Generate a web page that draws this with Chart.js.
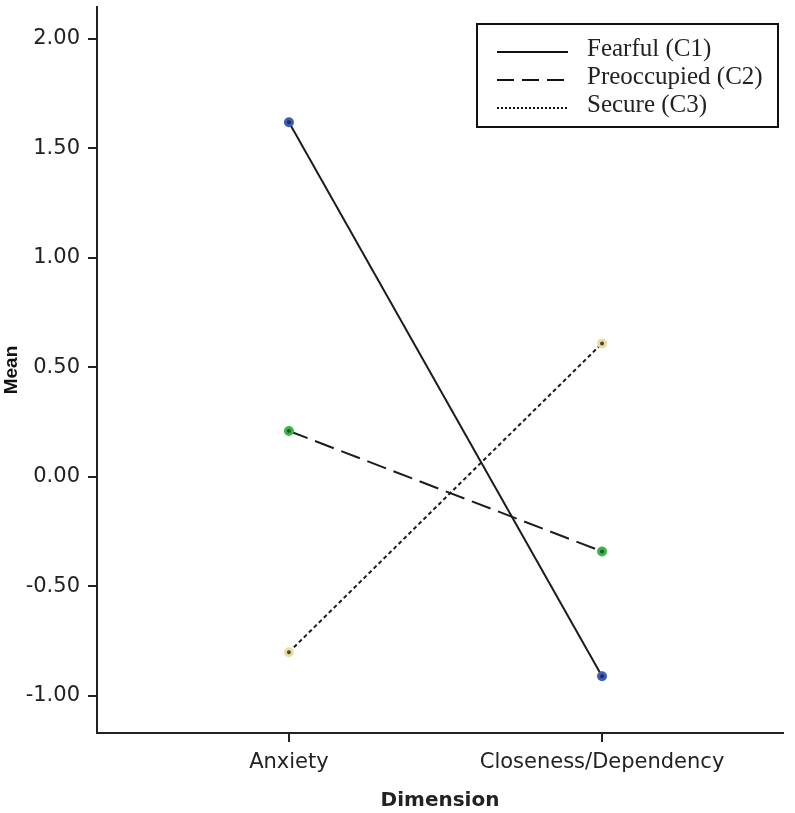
<!DOCTYPE html>
<html>
<head>
<meta charset="utf-8">
<script src="https://cdn.jsdelivr.net/npm/chart.js@4/dist/chart.umd.min.js"></script>
<style>
  html, body { margin: 0; padding: 0; background: #fff; }
  #wrap { width: 795px; height: 813px; }
</style>
</head>
<body>
<div id="wrap"><canvas id="c" width="795" height="813"></canvas></div>
<script>
// ---- data ----
const categories = ['Anxiety', 'Closeness/Dependency'];
const seriesNames = ['Fearful (C1)', 'Preoccupied (C2)', 'Secure (C3)'];
const fearful = [1.62, -0.91];
const preoccupied = [0.21, -0.34];
const secure = [-0.80, 0.61];
const yTicks = [-1.0, -0.5, 0.0, 0.5, 1.0, 1.5, 2.0];

const toPts = arr => arr.map((v, i) => ({ x: i, y: v }));
const lineCol = '#1c1c1c';

const legendBox = {
  id: 'legendBox',
  afterDraw(chart) {
    const ctx = chart.ctx;
    ctx.save();
    ctx.strokeStyle = '#111';
    ctx.lineWidth = 2;
    ctx.strokeRect(477, 24, 301, 103);
    const rows = [52, 80, 108];
    chart.data.datasets.forEach((ds, i) => {
      const y = rows[i];
      ctx.beginPath();
      ctx.setLineDash(ds.legendDash || []);
      ctx.lineWidth = 2;
      ctx.strokeStyle = '#111';
      ctx.moveTo(497, y);
      ctx.lineTo(568, y);
      ctx.stroke();
      ctx.setLineDash([]);
      ctx.fillStyle = '#222';
      ctx.font = '25px "Liberation Serif", "Times New Roman", serif';
      ctx.textBaseline = 'middle';
      ctx.textAlign = 'left';
      ctx.fillText(ds.label, 587, y - 3);
    });
    ctx.restore();
  }
};

new Chart(document.getElementById('c'), {
  type: 'line',
  data: {
    datasets: [
      {
        label: seriesNames[0], data: toPts(fearful),
        borderColor: lineCol, borderWidth: 2, borderDash: [],
        legendDash: [],
        pointRadius: 3.5, pointBorderWidth: 3,
        pointBackgroundColor: '#1f2c5c', pointBorderColor: '#3d5eb0'
      },
      {
        label: seriesNames[1], data: toPts(preoccupied),
        borderColor: lineCol, borderWidth: 2, borderDash: [20, 8],
        legendDash: [17, 8],
        pointRadius: 3.5, pointBorderWidth: 3,
        pointBackgroundColor: '#1f5a28', pointBorderColor: '#3cb34e'
      },
      {
        label: seriesNames[2], data: toPts(secure),
        borderColor: lineCol, borderWidth: 2, borderDash: [4, 3],
        legendDash: [2, 2],
        pointRadius: 3.5, pointBorderWidth: 3,
        pointBackgroundColor: '#4a4630', pointBorderColor: '#e6dea6'
      }
    ]
  },
  options: {
    responsive: false,
    animation: false,
    layout: { padding: { top: 1, right: 12, left: 0, bottom: 0 } },
    plugins: { legend: { display: false }, tooltip: { enabled: false } },
    scales: {
      x: {
        type: 'linear',
        min: -0.613, max: 1.578,
        afterBuildTicks: s => { s.ticks = categories.map((c, i) => ({ value: i })); },
        afterFit: s => { s.height = 80; s.paddingLeft = 0; s.paddingRight = 0; },
        grid: { display: true, drawOnChartArea: false, drawTicks: true, tickLength: 9, color: '#222', lineWidth: 2 },
        border: { display: true, color: '#222', width: 2 },
        ticks: {
          callback: v => categories[v],
          color: '#222', padding: 8, maxRotation: 0, autoSkip: false,
          font: { family: '"DejaVu Sans", sans-serif', size: 21 }
        },
        title: {
          display: true, text: 'Dimension', color: '#222', padding: { top: 2, bottom: 0 },
          font: { family: '"DejaVu Sans", sans-serif', size: 20, weight: 'bold' }
        }
      },
      y: {
        min: -1.169, max: 2.146,
        afterBuildTicks: s => { s.ticks = yTicks.map(v => ({ value: v })); },
        afterFit: s => { s.width = 97; s.paddingTop = 0; s.paddingBottom = 0; },
        grid: { display: true, drawOnChartArea: false, drawTicks: true, tickLength: 9, color: '#222', lineWidth: 2 },
        border: { display: true, color: '#222', width: 2 },
        ticks: {
          callback: v => Number(v).toFixed(2),
          color: '#222', padding: 8,
          font: { family: '"DejaVu Sans", sans-serif', size: 21 }
        },
        title: {
          display: true, text: 'Mean', color: '#111', padding: { top: 0, bottom: 2 },
          font: { family: '"Liberation Sans Narrow", "Liberation Sans", sans-serif', size: 19, weight: 'bold' }
        }
      }
    }
  },
  plugins: [legendBox]
});
</script>
</body>
</html>
